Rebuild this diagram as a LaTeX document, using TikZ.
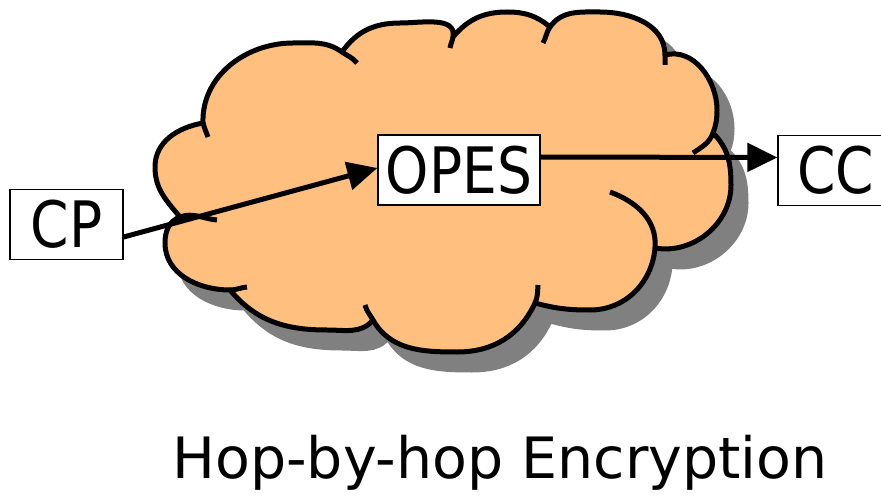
\documentclass[tikz,border=0pt]{standalone}
\usepackage{fontspec}
\setmainfont{DejaVu Sans}
\newfontfamily\boxfont{DejaVu Sans}[FakeStretch=0.86]
\usetikzlibrary{arrows.meta}

\definecolor{cloudfill}{RGB}{255,191,127}
\definecolor{cloudshade}{RGB}{128,128,128}

\tikzset{
  box/.style={draw, line width=1.2pt, fill=white, inner sep=0pt,
    minimum height=70pt, font=\boxfont\fontsize{64}{70}\selectfont},
  link/.style={line width=5pt, -{Triangle[length=30pt,width=28pt]}},
  cloudline/.style={line width=5pt, line join=round}
}

% cloud outline, one lobe after the other (clockwise from the left)
\newcommand{\cloudoutline}{(203,373)
  to[out=92,in=180] (293,453) to[out=0,in=145] (342,444)
  to[out=55,in=180] (400,473) to[out=0,in=80] (453,459)
  to[out=50,in=180] (507,484) to[out=0,in=140] (550,469)
  to[out=55,in=180] (600,484) to[out=0,in=90] (665,441)
  to[out=15,in=90] (717,386) to[out=-90,in=70] (713,363)
  to[out=-45,in=90] (731,311) to[out=-90,in=-10] (655,248)
  to[out=-95,in=0] (590,186) to[out=180,in=-15] (535,193)
  to[out=-115,in=0] (457,144) to[out=180,in=-60] (373,176)
  to[out=-130,in=0] (327,166) to[out=180,in=-50] (230,206)
  to[out=180,in=-90] (165,253) to[out=90,in=200] (180,279)
  to[out=130,in=-90] (155,329) to[out=90,in=190] (203,373) -- cycle}

\begin{document}
\begin{tikzpicture}[x=1pt,y=1pt]
  \useasboundingbox (0,0) rectangle (881,496);

  % shadow first, then the cloud itself
  \filldraw[cloudshade, cloudline, shift={(15,-18)}] \cloudoutline;
  \filldraw[fill=cloudfill, draw=black, cloudline] \cloudoutline;

  % short inner arcs where the lobes overlap
  \draw[cloudline]
    (203,373) to[out=-75,in=110] (208,359)
    (342,444) to[out=-35,in=130] (357,433)
    (453,459) to[out=-100,in=80] (450,448)
    (550,469) to[out=235,in=60] (543,453)
    (665,441) to[out=-90,in=90] (665,431)
    (713,363) to[out=-110,in=35] (693,343)
    (655,248) to[out=85,in=-20] (610,304)
    (535,193) to[out=65,in=-95] (538,211)
    (373,176) to[out=120,in=-75] (365,191)
    (230,206) to[out=0,in=185] (247,209)
    (180,279) to[out=20,in=175] (217,276);

  \node[box, minimum width=113pt] (cp) at (66.5,271.5) {CP};
  \node[box, minimum width=162pt] (opes) at (459,326) {OPES};
  \node[box, minimum width=116pt] (cc) at (836,325.5) {CC};

  \draw[link] ([yshift=-12.5pt]cp.east) -- ([yshift=2pt]opes.west);
  \draw[link] ([yshift=13pt]opes.east) -- ([yshift=13pt]cc.west);

  \node[anchor=base, font=\fontsize{57}{64}\selectfont] (caption) at (500,18)
    {Hop-by-hop Encryption};
\end{tikzpicture}
\end{document}
